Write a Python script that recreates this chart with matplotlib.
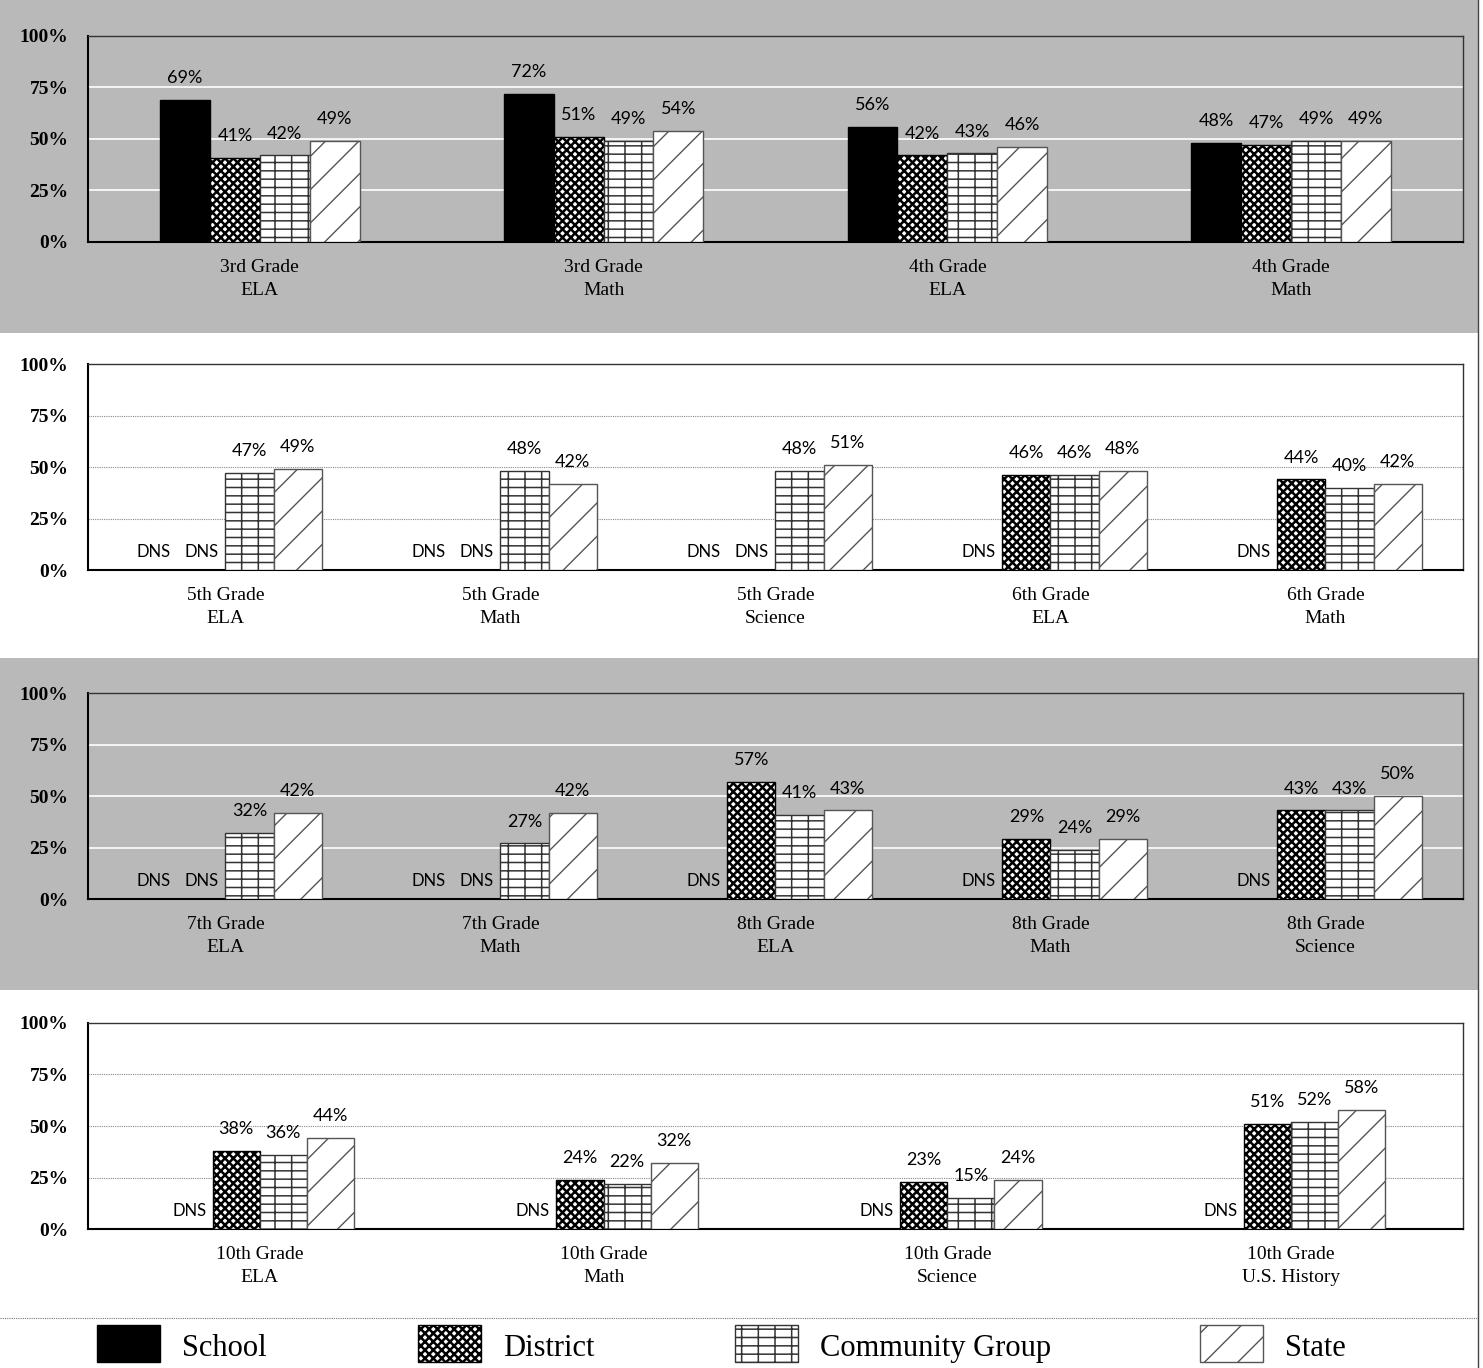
import matplotlib
matplotlib.use('Agg')
import matplotlib.pyplot as plt
from matplotlib.patches import Rectangle
import numpy as np

plt.rcParams['hatch.linewidth'] = 1.0

# Panel data (None = DNS, did not show)
cats1 = ['3rd Grade\nELA', '3rd Grade\nMath', '4th Grade\nELA', '4th Grade\nMath']
school1 = [69, 72, 56, 48]
district1 = [41, 51, 42, 47]
community1 = [42, 49, 43, 49]
state1 = [49, 54, 46, 49]

cats2 = ['5th Grade\nELA', '5th Grade\nMath', '5th Grade\nScience', '6th Grade\nELA', '6th Grade\nMath']
school2 = [None, None, None, None, None]
district2 = [None, None, None, 46, 44]
community2 = [47, 48, 48, 46, 40]
state2 = [49, 42, 51, 48, 42]

cats3 = ['7th Grade\nELA', '7th Grade\nMath', '8th Grade\nELA', '8th Grade\nMath', '8th Grade\nScience']
school3 = [None, None, None, None, None]
district3 = [None, None, 57, 29, 43]
community3 = [32, 27, 41, 24, 43]
state3 = [42, 42, 43, 29, 50]

cats4 = ['10th Grade\nELA', '10th Grade\nMath', '10th Grade\nScience', '10th Grade\nU.S. History']
school4 = [None, None, None, None]
district4 = [38, 24, 23, 51]
community4 = [36, 22, 15, 52]
state4 = [44, 32, 24, 58]

series_names = ['School', 'District', 'Community Group', 'State']
yticks = [0, 25, 50, 75, 100]

GRAY = '#b9b9b9'
styles = [
    dict(facecolor='black', edgecolor='black', hatch=None, hlw=1.0),
    dict(facecolor='white', edgecolor='black', hatch='xxxx', hlw=1.8),
    dict(facecolor='white', edgecolor='#333333', hatch='--|', hlw=1.1),
    dict(facecolor='white', edgecolor='#555555', hatch='/', hlw=1.0),
]
SERIF = 'Liberation Serif'
LABEL_FONT = 'Lato'

fig = plt.figure(figsize=(14.83, 13.68), dpi=100)

# gray shaded bands behind panels 1 and 3
fig.add_artist(Rectangle((0, 0.7566), 0.9966, 0.2434, transform=fig.transFigure,
                         facecolor=GRAY, edgecolor='none', zorder=-10))
fig.add_artist(Rectangle((0, 0.2763), 0.9966, 0.2427, transform=fig.transFigure,
                         facecolor=GRAY, edgecolor='none', zorder=-10))


def set_hlw(patch, lw):
    try:
        patch.set_hatch_linewidth(lw)
    except AttributeError:
        pass


def draw_panel(rect, cats, series, width, gray):
    ax = fig.add_axes(rect)
    ax.set_facecolor(GRAY if gray else 'white')
    x = np.arange(len(cats))
    offsets = [-1.5, -0.5, 0.5, 1.5]
    for vals, off, st in zip(series, offsets, styles):
        for xi, v in zip(x, vals):
            pos = xi + off * width
            if v is None:
                ax.text(pos, 5, 'DNS', ha='center', va='bottom',
                        fontsize=12, family=LABEL_FONT, color='black')
                continue
            bars = ax.bar(pos, v, width=width, facecolor=st['facecolor'],
                          edgecolor=st['edgecolor'], hatch=st['hatch'], linewidth=1.0, zorder=3)
            for b in bars:
                set_hlw(b, st['hlw'])
            ax.annotate(f'{v}%', (pos, v), xytext=(0, 10), textcoords='offset points',
                        ha='center', va='bottom', fontsize=13, family=LABEL_FONT)
    ax.set_xlim(-0.5, len(cats) - 0.5)
    ax.set_ylim(0, 100)
    ax.set_yticks(yticks)
    ax.set_yticklabels([f'{t}%' for t in yticks], fontsize=14, fontweight='bold', family=SERIF)
    ax.set_xticks(x)
    ax.set_xticklabels(cats, fontsize=14, family=SERIF, linespacing=1.45)
    ax.tick_params(axis='both', length=0)
    ax.tick_params(axis='y', pad=14)
    ax.tick_params(axis='x', pad=12)
    for t in yticks[1:4]:
        if gray:
            ax.axhline(t, color='white', linewidth=1.2, zorder=1)
        else:
            ax.axhline(t, color='#888888', linewidth=0.8, linestyle=(0, (1, 1)), zorder=1)
    for side in ['left', 'bottom']:
        ax.spines[side].set_linewidth(1.5)
    for side in ['top', 'right']:
        ax.spines[side].set_linewidth(1.0)
        ax.spines[side].set_color('#333333')
    return ax


L, W, H = 0.0593, 0.9272, 0.1506
draw_panel([L, 0.8231, W, H], cats1, [school1, district1, community1, state1], 0.145, True)
draw_panel([L, 0.5833, W, H], cats2, [school2, district2, community2, state2], 0.175, False)
draw_panel([L, 0.3428, W, H], cats3, [school3, district3, community3, state3], 0.175, True)
draw_panel([L, 0.1016, W, H], cats4, [school4, district4, community4, state4], 0.137, False)

# separator line above legend and page edge
fig.add_artist(plt.Line2D([0, 0.9966], [0.0365, 0.0365], transform=fig.transFigure,
                          color='#777777', linewidth=0.8, linestyle=(0, (1, 1))))
fig.add_artist(plt.Line2D([0.9966, 0.9966], [0, 1], transform=fig.transFigure,
                          color='#444444', linewidth=1.0))

# legend
leg_x = [97, 418, 735, 1200]
for px, name, st in zip(leg_x, series_names, styles):
    r = Rectangle((px / 1483, 0.0044), 63 / 1483, 0.027, transform=fig.transFigure,
                  facecolor=st['facecolor'], edgecolor=st['edgecolor'],
                  hatch=st['hatch'], linewidth=1.0)
    set_hlw(r, st['hlw'])
    fig.add_artist(r)
    fig.text((px + 85) / 1483, 0.0145, name, fontsize=22, family=SERIF, va='center', ha='left')

fig.savefig('out.png', dpi=100)
